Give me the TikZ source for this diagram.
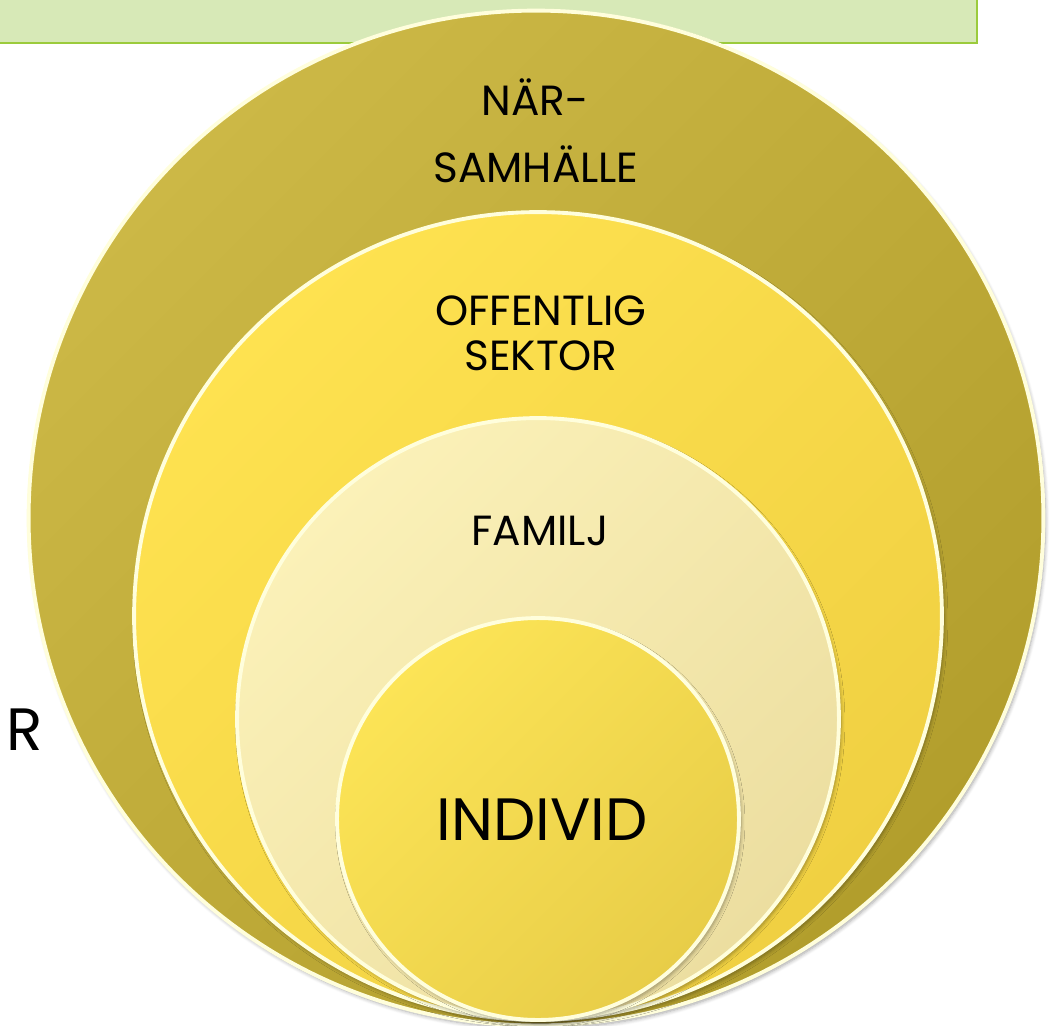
\documentclass[tikz,border=0pt]{standalone}
\usepackage{fontspec}
\setmainfont{Poppins}
\usetikzlibrary{shadows.blur}
\definecolor{bannerfill}{RGB}{215,233,183}
\definecolor{bannerline}{RGB}{155,203,60}
\definecolor{olivehi}{RGB}{204,184,70}
\definecolor{olivelo}{RGB}{178,158,44}
\definecolor{yelhi}{RGB}{254,226,80}
\definecolor{yello}{RGB}{240,208,66}
\definecolor{palehi}{RGB}{251,241,184}
\definecolor{palelo}{RGB}{236,222,160}
\definecolor{inhi}{RGB}{252,228,86}
\definecolor{inlo}{RGB}{232,205,72}
\definecolor{rim}{RGB}{255,254,220}
\tikzset{
  ring/.style={circle, inner sep=0pt, outer sep=0pt, draw=rim, line width=2.2pt,
    blur shadow={shadow xshift=1.2pt, shadow yshift=-1.8pt, shadow blur steps=6, shadow opacity=35}},
  lbl/.style={font=\fontsize{24}{24}\selectfont, text=black, anchor=base, inner sep=0pt},
  biglbl/.style={font=\fontsize{34}{34}\selectfont, text=black, anchor=base, inner sep=0pt}
}
\begin{document}
\begin{tikzpicture}[x=0.02cm,y=-0.02cm]
\useasboundingbox (0,0) rectangle (1052,1025);
\path[fill=bannerfill, draw=bannerline, line width=1.4pt] (-10,-10) rectangle (977,43);
\node[ring, minimum size=20.3cm, top color=olivehi, bottom color=olivelo, shading angle=45] (c1) at (536,518) {};
\node[ring, minimum size=16.16cm, top color=yelhi, bottom color=yello, shading angle=45] (c2) at (538,616) {};
\node[ring, minimum size=12.04cm, top color=palehi, bottom color=palelo, shading angle=45] (c3) at (538,719) {};
\node[ring, minimum size=8.04cm, top color=inhi, bottom color=inlo, shading angle=45] (c4) at (538,819) {};
\node[lbl] (t1a) at (535,115) {NÄR-};
\node[lbl] (t1b) at (536,182) {SAMHÄLLE};
\node[lbl] (t2a) at (541,325) {OFFENTLIG};
\node[lbl] (t2b) at (541,370) {SEKTOR};
\node[lbl] (t3) at (540,545) {FAMILJ};
\node[biglbl] (t4) at (542,840) {INDIVID};
\node[biglbl, anchor=base west] (r) at (6,750) {R};
\end{tikzpicture}
\end{document}
